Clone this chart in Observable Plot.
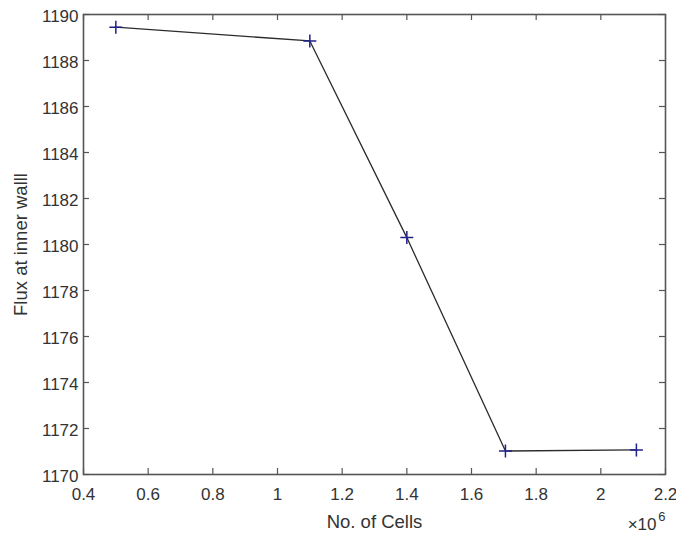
<!DOCTYPE html>
<html>
<head>
<meta charset="utf-8">
<script src="https://cdn.jsdelivr.net/npm/d3@7"></script>
<script src="https://cdn.jsdelivr.net/npm/@observablehq/plot@0.6"></script>
<style>
  html, body { margin: 0; padding: 0; background: #fff; }
  #chart svg { display: block; }
</style>
</head>
<body>
<div id="chart"></div>
<script>
// Mesh-independence study: wall flux against number of cells
const cells = [0.5e6, 1.1e6, 1.4e6, 1.705e6, 2.11e6];
const flux = [1189.45, 1188.85, 1180.3, 1171.02, 1171.07];

const xTicks = [0.4e6, 0.6e6, 0.8e6, 1.0e6, 1.2e6, 1.4e6, 1.6e6, 1.8e6, 2.0e6, 2.2e6];
const xTickLabels = ["0.4", "0.6", "0.8", "1", "1.2", "1.4", "1.6", "1.8", "2", "2.2"];
const yTicks = [1170, 1172, 1174, 1176, 1178, 1180, 1182, 1184, 1186, 1188, 1190];

const data = cells.map((c, i) => ({cells: c, flux: flux[i]}));

// Thin "+" marker
const plusThin = {
  draw(context, size) {
    const r = Math.sqrt(size / Math.PI);
    context.moveTo(-r, 0); context.lineTo(r, 0);
    context.moveTo(0, -r); context.lineTo(0, r);
  }
};

const W = 676, H = 535;
const mL = 83, mR = 11, mT = 14, mB = 61;
const plotW = W - mL - mR, plotH = H - mT - mB;
const tickLen = 6;
const axisColor = "#555";
const textColor = "#333";

const chart = Plot.plot({
  width: W,
  height: H,
  marginLeft: mL,
  marginRight: mR,
  marginTop: mT,
  marginBottom: mB,
  style: {background: "#fff", fontFamily: "Liberation Sans, Arial, Helvetica, sans-serif", color: textColor},
  x: {domain: [0.4e6, 2.2e6]},
  y: {domain: [1170, 1190]},
  marks: [
    // inward tick marks on all four sides
    Plot.ruleX(xTicks, {insetTop: plotH - tickLen, stroke: axisColor, strokeWidth: 1.2}),
    Plot.ruleX(xTicks, {insetBottom: plotH - tickLen, stroke: axisColor, strokeWidth: 1.2}),
    Plot.ruleY(yTicks, {insetRight: plotW - tickLen, stroke: axisColor, strokeWidth: 1.2}),
    Plot.ruleY(yTicks, {insetLeft: plotW - tickLen, stroke: axisColor, strokeWidth: 1.2}),
    Plot.frame({stroke: axisColor, strokeWidth: 1.6}),
    Plot.axisX({
      ticks: xTicks,
      tickFormat: (d) => xTickLabels[xTicks.indexOf(d)],
      tickSize: 0,
      tickPadding: 13,
      fontSize: 17,
      fill: textColor,
      label: "No. of Cells",
      labelAnchor: "center",
      labelArrow: "none",
      labelOffset: 53
    }),
    Plot.axisY({
      ticks: yTicks,
      tickFormat: (d) => String(d),
      tickSize: 0,
      tickPadding: 5,
      dy: 2,
      fontSize: 17,
      fill: textColor,
      label: "Flux at inner walll",
      labelAnchor: "center",
      labelArrow: "none",
      labelOffset: 70
    }),
    // exponent of the x axis
    Plot.text(["×10"], {frameAnchor: "bottom-right", dx: -9, dy: 55, fontSize: 17, fill: textColor, textAnchor: "end"}),
    Plot.text(["6"], {frameAnchor: "bottom-right", dx: 0, dy: 46, fontSize: 13, fill: textColor, textAnchor: "end"}),
    Plot.line(data, {x: "cells", y: "flux", stroke: "#2b2b2b", strokeWidth: 1.3}),
    Plot.dot(data, {x: "cells", y: "flux", symbol: plusThin, r: 6.5, stroke: "#20208a", strokeWidth: 1.5, fill: "none"})
  ]
});

document.getElementById("chart").appendChild(chart);
// axis titles are a little larger than the tick labels
d3.select(chart).selectAll("[aria-label='x-axis label'] text, [aria-label='y-axis label'] text")
  .attr("font-size", 18.5).attr("fill", textColor);
</script>
</body>
</html>
